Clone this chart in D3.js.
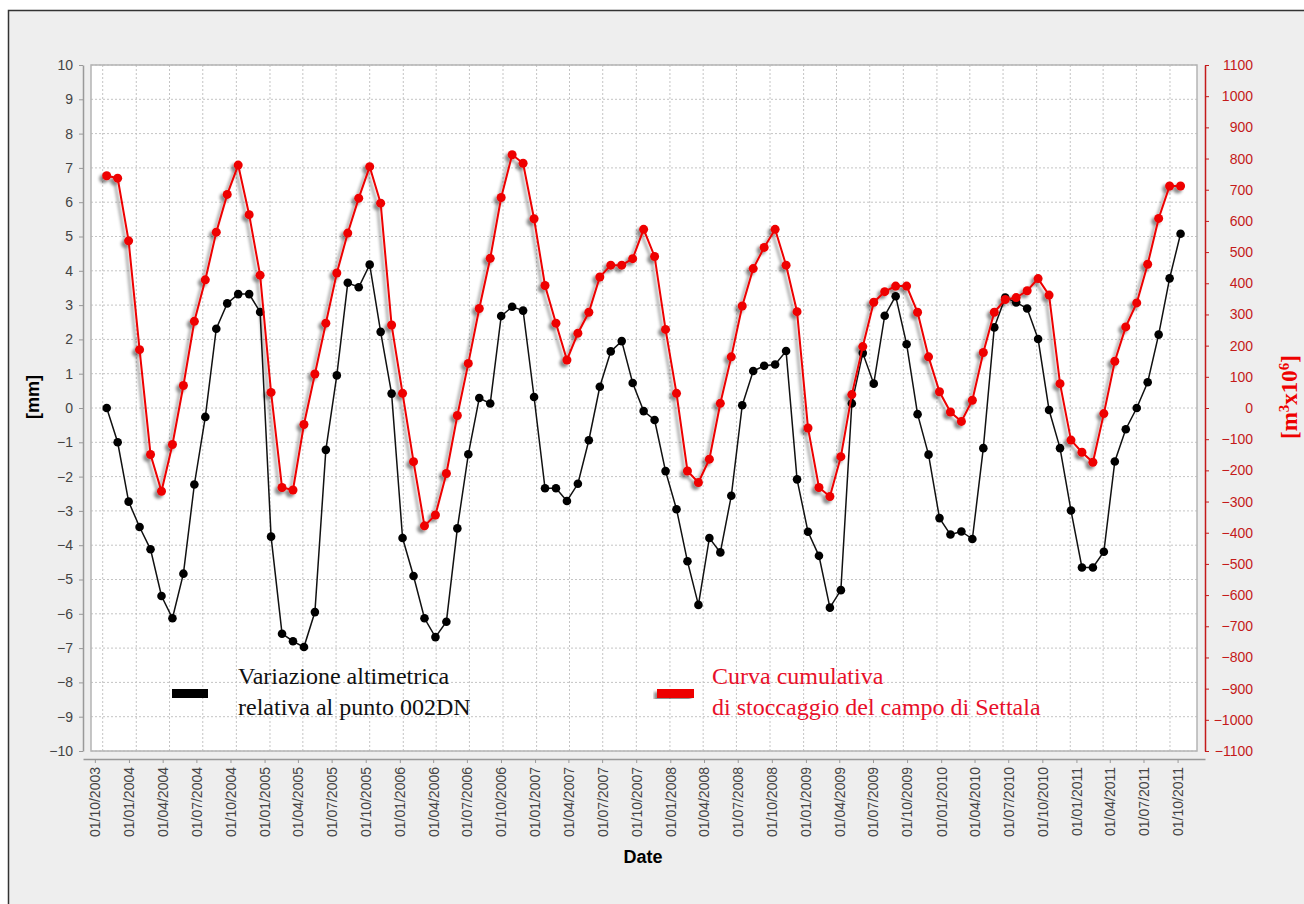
<!DOCTYPE html>
<html>
<head>
<meta charset="utf-8">
<script src="https://cdn.jsdelivr.net/npm/d3@7"></script>
<style>
body { margin: 0; background: #ffffff; }
text { font-family: Arial, 'Liberation Sans', sans-serif; }
</style>
</head>
<body>
<svg id="chart" width="1304" height="904"></svg>
<script>
// samples every 30 days, first one on 12/10/2003
var first_date = new Date(2003, 9, 12), step_days = 30;

// [mm] - variazione altimetrica 002DN
var altimetria = [
	0.00, -1.00, -2.73, -3.47, -4.12, -5.48, -6.13, -4.83, -2.23, -0.26,
	2.31, 3.05, 3.32, 3.32, 2.80, -3.75, -6.58, -6.80, -6.97, -5.95,
	-1.22, 0.95, 3.65, 3.52, 4.18, 2.22, 0.42, -3.79, -4.90, -6.13,
	-6.68, -6.23, -3.51, -1.35, 0.29, 0.13, 2.68, 2.95, 2.84, 0.32,
	-2.34, -2.34, -2.71, -2.21, -0.94, 0.62, 1.65, 1.95, 0.73, -0.09,
	-0.35, -1.84, -2.95, -4.47, -5.74, -3.79, -4.21, -2.56, 0.08, 1.08,
	1.23, 1.27, 1.66, -2.08, -3.61, -4.31, -5.82, -5.31, 0.13, 1.60,
	0.71, 2.69, 3.26, 1.86, -0.18, -1.36, -3.21, -3.69, -3.60, -3.82,
	-1.17, 2.35, 3.22, 3.08, 2.90, 2.01, -0.06, -1.17, -2.99, -4.65,
	-4.65, -4.19, -1.56, -0.62, 0.00, 0.75, 2.14, 3.78, 5.08
];

// [m3 x 10^6] - curva cumulativa di stoccaggio
var stoccaggio = [
	745, 737, 536, 187, -149, -267, -117, 72, 278, 411,
	564, 685, 779, 620, 426, 50, -255, -263, -53, 109,
	272, 433, 561, 673, 774, 657, 266, 47, -172, -378,
	-343, -210, -24, 143, 319, 480, 675, 812, 785, 607,
	393, 272, 154, 240, 307, 420, 458, 458, 479, 573,
	486, 252, 47, -202, -239, -164, 15, 164, 327, 447,
	515, 573, 458, 309, -64, -255, -284, -156, 43, 197,
	339, 373, 391, 391, 307, 164, 52, -13, -43, 25,
	178, 307, 348, 354, 376, 415, 362, 78, -103, -142,
	-174, -18, 150, 260, 337, 461, 608, 712, 712
];

var ticks_mm = d3.range(-10, 11, 1);
var ticks_m3 = d3.range(-1100, 1101, 100);
var legend_black = ['Variazione altimetrica', 'relativa al punto 002DN'];
var legend_red = ['Curva cumulativa', 'di stoccaggio del campo di Settala'];

var dates = altimetria.map((d, i) => d3.timeDay.offset(first_date, i * step_days));

var svg = d3.select('#chart');
var p_left = 91, p_right = 1197, p_top = 65, p_bottom = 751, axis_off = 8;
var red = '#ee0000', dark_red = '#c41a1a';
var serif = "'Liberation Serif', 'Times New Roman', serif";

// panel
svg.append('rect').attr('x', 8).attr('y', 10).attr('width', 1296).attr('height', 894).attr('fill', '#eeeeee');
svg.append('path').attr('d', 'M8.5,904V10.5H1304').attr('fill', 'none').attr('stroke', '#333').attr('stroke-width', 1.5);

var defs = svg.append('defs');
defs.append('filter').attr('id', 'shadow').attr('x', '-10%').attr('y', '-10%').attr('width', '120%').attr('height', '120%')
	.append('feDropShadow').attr('dx', -3).attr('dy', 3).attr('stdDeviation', 1.8)
	.attr('flood-color', '#000').attr('flood-opacity', 0.45);

var x = d3.scaleTime().domain([new Date(2003, 7, 30), new Date(2011, 11, 14)]).range([p_left, p_right]);
var x_axis = x.copy().range([p_left - axis_off, p_right + axis_off]);
var y = d3.scaleLinear().domain([-10, 10]).range([p_bottom, p_top]);
var y2 = d3.scaleLinear().domain([-1100, 1100]).range([p_bottom, p_top]);

// plot background + grid
svg.append('rect').attr('x', p_left).attr('y', p_top).attr('width', p_right - p_left).attr('height', p_bottom - p_top).attr('fill', '#fff');

var quarters = x.ticks(d3.timeMonth.every(3));
svg.append('g').selectAll('line').data(quarters).enter().append('line')
	.attr('x1', d => x(d)).attr('x2', d => x(d)).attr('y1', p_top).attr('y2', p_bottom)
	.attr('stroke', '#c4c4c4').attr('stroke-dasharray', '2,2');
svg.append('g').selectAll('line').data(ticks_mm).enter().append('line')
	.attr('x1', p_left).attr('x2', p_right).attr('y1', d => y(d)).attr('y2', d => y(d))
	.attr('stroke', '#c4c4c4').attr('stroke-dasharray', '2,2');

svg.append('rect').attr('x', p_left).attr('y', p_top).attr('width', p_right - p_left).attr('height', p_bottom - p_top)
	.attr('fill', 'none').attr('stroke', '#b4b4b4').attr('stroke-width', 1.5);

// axes
var gl = svg.append('g').attr('transform', 'translate(' + (p_left - axis_off) + ',0)')
	.call(d3.axisLeft(y).tickValues(ticks_mm).tickFormat(d3.format('d')).tickSize(4).tickSizeOuter(0).tickPadding(6));
gl.select('.domain').attr('stroke', '#999').attr('stroke-width', 1.5);
gl.selectAll('.tick line').attr('stroke', '#999');
gl.selectAll('.tick text').attr('fill', '#444').style('font-size', '14px');

var gr = svg.append('g').attr('transform', 'translate(' + (p_right + axis_off) + ',0)')
	.call(d3.axisRight(y2).tickValues(ticks_m3).tickFormat(d3.format('d')).tickSize(4).tickSizeOuter(0));
gr.select('.domain').attr('stroke', dark_red).attr('stroke-width', 1.5);
gr.selectAll('.tick line').attr('stroke', dark_red);
gr.selectAll('.tick text').attr('fill', dark_red).attr('text-anchor', 'end').attr('x', 48).style('font-size', '14px');

var gb = svg.append('g').attr('transform', 'translate(0,' + (p_bottom + axis_off) + ')')
	.call(d3.axisBottom(x_axis).ticks(d3.timeMonth.every(3)).tickFormat(d3.timeFormat('%d/%m/%Y')).tickSize(4).tickSizeOuter(0));
gb.select('.domain').attr('stroke', '#999').attr('stroke-width', 1.5);
gb.selectAll('.tick line').attr('stroke', '#999');
gb.selectAll('.tick text').attr('fill', '#444').style('font-size', '14px')
	.attr('transform', 'rotate(-90)').attr('text-anchor', 'end').attr('x', -8).attr('y', 0).attr('dy', '0.35em');

// titles
svg.append('text').attr('transform', 'translate(39,397) rotate(-90)').attr('text-anchor', 'middle')
	.style('font-size', '18px').style('font-weight', 'bold').text('[mm]');
svg.append('text').attr('x', 643).attr('y', 863).attr('text-anchor', 'middle')
	.style('font-size', '18px').style('font-weight', 'bold').text('Date');
var t2 = svg.append('text').attr('transform', 'translate(1297,397) rotate(-90)').attr('text-anchor', 'middle')
	.attr('fill', red).style('font-family', serif)
	.style('font-size', '23px').style('font-weight', 'bold');
t2.append('tspan').text('[m');
t2.append('tspan').attr('dy', -8).style('font-size', '15px').text('3');
t2.append('tspan').attr('dy', 8).text('x10');
t2.append('tspan').attr('dy', -8).style('font-size', '15px').text('6');
t2.append('tspan').attr('dy', 8).text(']');

// black series
var line_mm = d3.line().x((d, i) => x(dates[i])).y(d => y(d));
svg.append('path').datum(altimetria).attr('d', line_mm)
	.attr('fill', 'none').attr('stroke', '#111').attr('stroke-width', 1.5);
svg.append('g').selectAll('circle').data(altimetria).enter().append('circle')
	.attr('cx', (d, i) => x(dates[i])).attr('cy', d => y(d)).attr('r', 4.3).attr('fill', '#000');

// red series
var line_m3 = d3.line().x((d, i) => x(dates[i])).y(d => y2(d));
var gred = svg.append('g').attr('filter', 'url(#shadow)');
gred.append('path').datum(stoccaggio).attr('d', line_m3)
	.attr('fill', 'none').attr('stroke', red).attr('stroke-width', 2);
gred.selectAll('circle').data(stoccaggio).enter().append('circle')
	.attr('cx', (d, i) => x(dates[i])).attr('cy', d => y2(d)).attr('r', 4.5).attr('fill', red);

// legend
svg.append('rect').attr('x', 172).attr('y', 689).attr('width', 36).attr('height', 9).attr('fill', '#000');
svg.append('text').attr('x', 238).attr('y', 684).style('font-family', serif)
	.style('font-size', '24px').attr('fill', '#111')
	.selectAll('tspan').data(legend_black).enter().append('tspan')
	.attr('x', 238).attr('dy', (d, i) => i ? 31 : 0).text(d => d);

svg.append('rect').attr('x', 657).attr('y', 689).attr('width', 37).attr('height', 9).attr('fill', red).attr('filter', 'url(#shadow)');
svg.append('text').attr('x', 712).attr('y', 684).style('font-family', serif)
	.style('font-size', '24px').attr('fill', '#e8102a')
	.selectAll('tspan').data(legend_red).enter().append('tspan')
	.attr('x', 712).attr('dy', (d, i) => i ? 31 : 0).text(d => d);
</script>
</body>
</html>
